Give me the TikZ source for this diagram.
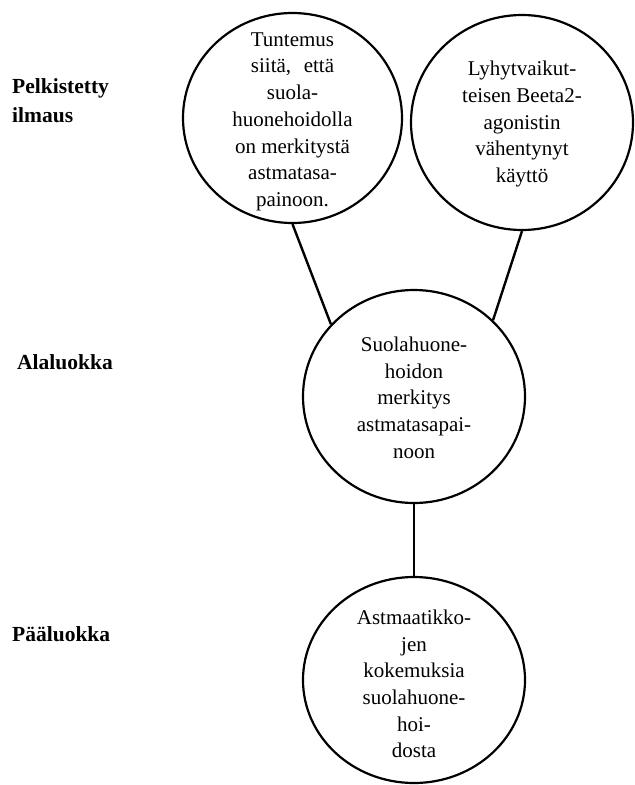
\documentclass[tikz,border=0pt]{standalone}
\usepackage{fontspec}
\setmainfont{Liberation Serif}
\usetikzlibrary{shapes.geometric}
\begin{document}
\begin{tikzpicture}[x=1pt,y=-1pt,
  bubble/.style={draw=black, ellipse, line width=2.2pt, inner sep=0pt},
  bubtext/.style={align=center, inner sep=0pt, font=\fontsize{21}{26.7}\selectfont},
  level/.style={anchor=base west, inner sep=0pt, font=\bfseries\fontsize{21.5}{26}\selectfont},
  link/.style={line width=2.4pt}]

% page
\fill[white] (0,0) rectangle (634,785);

% circles
\node[bubble, minimum width=219pt, minimum height=210pt] (c1) at (292.5,118) {};
\node[bubble, minimum width=222pt, minimum height=215pt] (c2) at (522,122.5) {};
\node[bubble, minimum width=222pt, minimum height=213pt] (c3) at (414,396.5) {};
\node[bubble, minimum width=222pt, minimum height=206pt] (c4) at (414,680) {};

% circle texts
\node[bubtext] (t1) at (292.5,121.7) {Tuntemus\\siitä,\hspace{0.6em}että\\suola-\\huonehoidolla\\on merkitystä\\astmatasa-\\painoon.};
\node[bubtext] (t2) at (522,124) {Lyhytvaikut-\\teisen Beeta2-\\agonistin\\vähentynyt\\käyttö};
\node[bubtext] (t3) at (414,397.7) {Suolahuone-\\hoidon\\merkitys\\astmatasapai-\\noon};
\node[bubtext] (t4) at (414,684) {Astmaatikko-\\jen\\kokemuksia\\suolahuone-\\hoi-\\dosta};

% connectors
\draw[link] (c1.south) -- (c3.139);
\draw[link] (c2.south) -- (c3.44);
\draw[link] (c3.south) -- (c4.north);

% level labels
\node[level] (l1a) at (12,93) {Pelkistetty};
\node[level] (l1b) at (12,122) {ilmaus};
\node[level] (l2) at (17,369) {Alaluokka};
\node[level] (l3) at (12,641) {Pääluokka};
\end{tikzpicture}
\end{document}
